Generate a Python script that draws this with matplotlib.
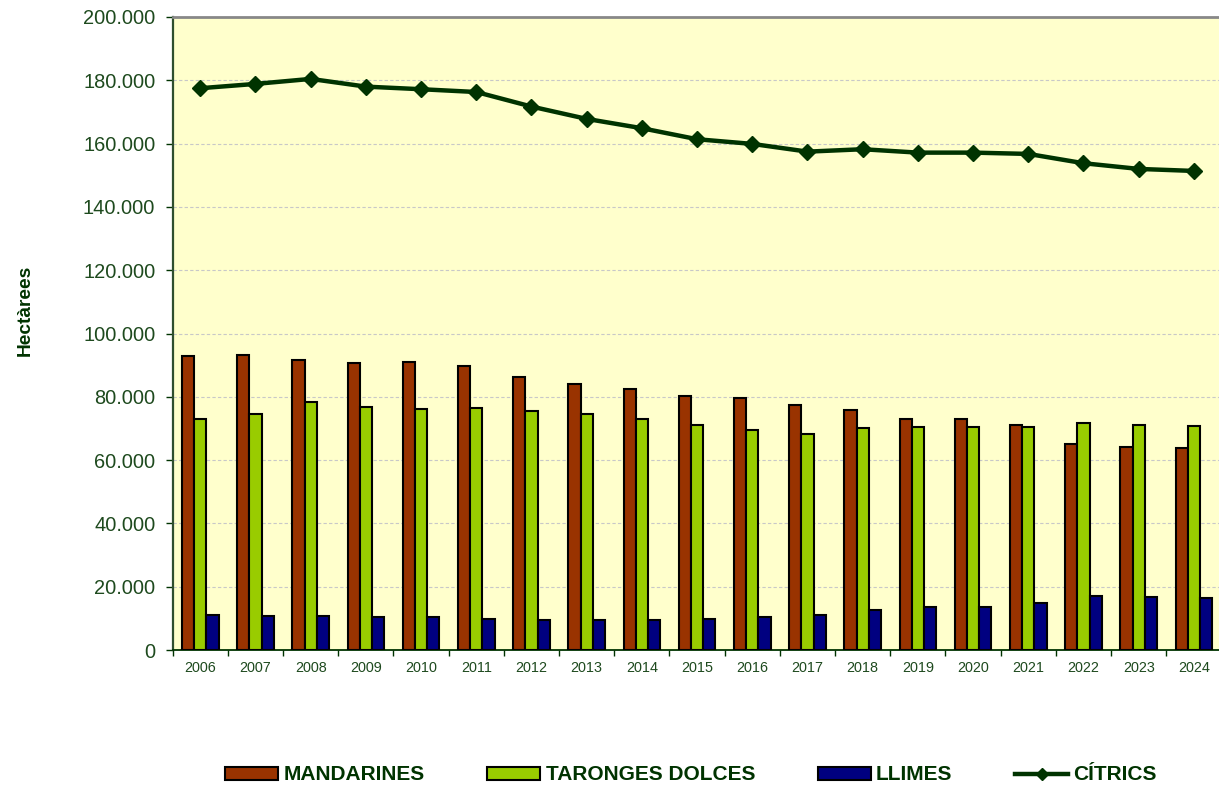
import matplotlib
matplotlib.use("Agg")
import matplotlib.pyplot as plt
import numpy as np
from matplotlib.ticker import FuncFormatter, MultipleLocator
from matplotlib.patches import Patch
from matplotlib.lines import Line2D

years = ["2006", "2007", "2008", "2009", "2010", "2011", "2012", "2013", "2014", "2015",
         "2016", "2017", "2018", "2019", "2020", "2021", "2022", "2023", "2024"]
mandarines = [92900, 93200, 91600, 90600, 90900, 89800, 86200, 84000, 82400, 80400,
              79600, 77300, 75700, 73100, 73100, 71100, 65000, 64200, 63700]
taronges = [73000, 74700, 78200, 76900, 76200, 76500, 75400, 74600, 73000, 71000,
            69500, 68400, 70000, 70400, 70400, 70400, 71600, 71100, 70800]
llimes = [11060, 10650, 10650, 10330, 10330, 9900, 9480, 9480, 9480, 9900,
          10330, 11060, 12640, 13700, 13700, 14850, 17160, 16850, 16430]
citrics = [177500, 178860, 180440, 178000, 177180, 176300, 171700, 167800, 164860, 161380,
           159900, 157460, 158220, 157150, 157150, 156740, 153800, 152000, 151360]

series_names = ["MANDARINES", "TARONGES DOLCES", "LLIMES", "CÍTRICS"]
bar_colors = ["#993300", "#99CC00", "#000080"]
line_color = "#003300"
text_color = "#003300"

plt.rcParams['font.family'] = ['Liberation Sans', 'DejaVu Sans']

W, H = 1219, 788
fig = plt.figure(figsize=(W / 100, H / 100), dpi=100)
ax_left, ax_right = 172.7, 1221.5
ax_top, ax_bot = 17, 650
ax = fig.add_axes([ax_left / W, 1 - ax_bot / H, (ax_right - ax_left) / W, (ax_bot - ax_top) / H])
ax.set_facecolor("#FFFFCC")

x = np.arange(len(years))
bw = 0.22
ax.bar(x - bw, mandarines, bw, color=bar_colors[0], edgecolor="black", linewidth=1.5, zorder=3)
ax.bar(x, taronges, bw, color=bar_colors[1], edgecolor="black", linewidth=1.5, zorder=3)
ax.bar(x + bw, llimes, bw, color=bar_colors[2], edgecolor="black", linewidth=1.5, zorder=3)
ax.plot(x, citrics, color=line_color, linewidth=3.2, marker="D", markersize=8, zorder=4)

ax.set_xlim(-0.5, len(years) - 0.5)
ax.set_ylim(0, 200000)
ax.yaxis.set_major_locator(MultipleLocator(20000))
ax.yaxis.set_major_formatter(FuncFormatter(lambda v, p: f"{v:,.0f}".replace(",", ".")))
ax.grid(axis="y", color="#C8C8C8", linestyle=(0, (3, 2)), linewidth=0.8, zorder=1)

ax.set_xticks(x)
ax.set_xticklabels(years)
ax.set_xticks(np.arange(-0.5, len(years), 1.0), minor=True)
ax.tick_params(axis="x", which="major", length=0, pad=8, labelsize=10.4, labelcolor="#1E4A1E")
ax.tick_params(axis="x", which="minor", length=4, width=1, color=text_color, direction="out")
ax.tick_params(axis="y", which="major", length=4.8, width=1, color=text_color, pad=7.7,
               labelsize=14.4, labelcolor="#1E4A1E")

ax.spines["top"].set_color("#888888")
ax.spines["top"].set_linewidth(2)
ax.spines["right"].set_visible(False)
ax.spines["left"].set_color("#2F4F2F")
ax.spines["left"].set_linewidth(1.6)
ax.spines["bottom"].set_color(text_color)
ax.spines["bottom"].set_linewidth(1.3)

fig.text(25 / W, 1 - 310 / H, "Hectàrees", rotation=90, ha="center", va="center",
         fontsize=13.8, fontweight="bold", color=text_color)

handles = [
    Patch(facecolor=bar_colors[0], edgecolor="black", linewidth=1.5),
    Patch(facecolor=bar_colors[1], edgecolor="black", linewidth=1.5),
    Patch(facecolor=bar_colors[2], edgecolor="black", linewidth=1.5),
    Line2D([0], [0], color=line_color, linewidth=3.2, marker="D", markersize=6),
]
leg = fig.legend(handles, series_names, loc="center", bbox_to_anchor=(691 / W, 1 - 775 / H),
                 ncol=4, frameon=False, handlelength=2.55, handleheight=0.6,
                 handletextpad=0.25, columnspacing=3.0,
                 prop={"family": "Liberation Sans", "weight": "bold", "size": 15})
for t in leg.get_texts():
    t.set_color(text_color)

fig.savefig("out.png", dpi=100)
